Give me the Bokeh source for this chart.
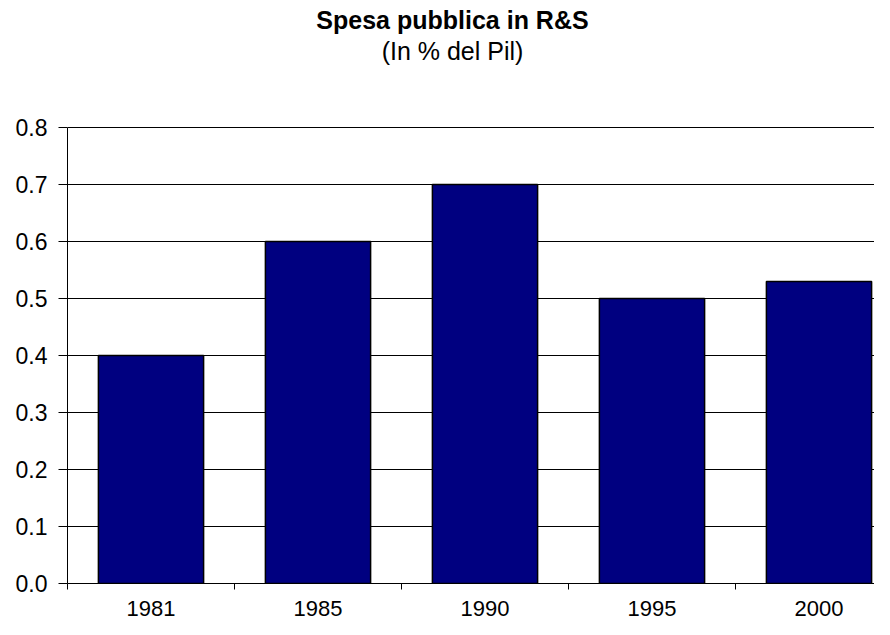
from bokeh.plotting import figure
from bokeh.models import FixedTicker, NumeralTickFormatter, Range1d
from bokeh.embed import file_html
from bokeh.resources import INLINE
from bokeh.core.properties import value

# ---- data ----
years = ["1981", "1985", "1990", "1995", "2000"]
spesa = [0.40, 0.60, 0.70, 0.50, 0.53]
y_ticks = [0.0, 0.1, 0.2, 0.3, 0.4, 0.5, 0.6, 0.7, 0.8]
title_text = "Spesa pubblica in R&S"
subtitle_text = "(In % del Pil)"

FONT = "Liberation Sans"

x_pos = [i + 0.5 for i in range(len(years))]
boundaries = list(range(len(years) + 1))

# layout (pixels)
W, H = 874, 619
FRAME_LEFT = 67
FRAME_BOTTOM = 583
TOP_PX = 127          # pixel row of the 0.8 line
Y_MAX = y_ticks[-1]
px_per_unit = (FRAME_BOTTOM - TOP_PX) / Y_MAX
cat_px = 167
x_end = (W - FRAME_LEFT) / cat_px
y_end = FRAME_BOTTOM / px_per_unit

p = figure(width=W, height=H, output_backend="svg", toolbar_location=None,
           x_range=Range1d(0, x_end), y_range=Range1d(0, y_end),
           min_border_left=FRAME_LEFT, min_border_right=0, min_border_top=0,
           min_border_bottom=H - FRAME_BOTTOM)
p.background_fill_color = "white"
p.border_fill_color = "white"
p.outline_line_color = None

p.vbar(x=x_pos, top=spesa, width=0.63, fill_color="#000080",
       line_color="black", line_width=1.5)

p.xgrid.visible = False
p.ygrid.ticker = FixedTicker(ticks=y_ticks)
p.ygrid.grid_line_color = "black"
p.ygrid.grid_line_width = 1
p.ygrid.level = "underlay"

ya = p.yaxis[0]
ya.ticker = FixedTicker(ticks=y_ticks)
ya.bounds = (0, Y_MAX)
ya.formatter = NumeralTickFormatter(format="0.0")
ya.major_tick_out = 9
ya.major_tick_in = 0
ya.minor_tick_out = 0
ya.minor_tick_in = 0
ya.axis_line_color = "black"
ya.major_tick_line_color = "black"
ya.major_label_text_font = FONT
ya.major_label_text_font_size = "23px"
ya.major_label_text_color = "black"
ya.major_label_standoff = 11

xa = p.xaxis[0]
xa.ticker = FixedTicker(ticks=x_pos, minor_ticks=boundaries)
xa.major_label_overrides = {x: y for x, y in zip(x_pos, years)}
xa.major_tick_out = 0
xa.major_tick_in = 0
xa.minor_tick_out = 6
xa.minor_tick_in = 0
xa.minor_tick_line_color = "black"
xa.axis_line_color = "black"
xa.major_label_text_font = FONT
xa.major_label_text_font_size = "22px"
xa.major_label_text_color = "black"
xa.major_label_standoff = 11

# titles (positioned in pixel terms converted to data space)
title_cx = (452 - FRAME_LEFT) / cat_px
p.text(x=[title_cx], y=[(FRAME_BOTTOM - 19) / px_per_unit], text=[title_text],
       text_align="center", text_baseline="alphabetic",
       text_font=value(FONT), text_font_style="bold",
       text_font_size="25px", text_color="black")
p.text(x=[title_cx], y=[(FRAME_BOTTOM - 50) / px_per_unit], text=[subtitle_text],
       text_align="center", text_baseline="alphabetic",
       text_font=value(FONT), text_font_size="25px", text_color="black")

open("out.html", "w").write(file_html(p, INLINE))
